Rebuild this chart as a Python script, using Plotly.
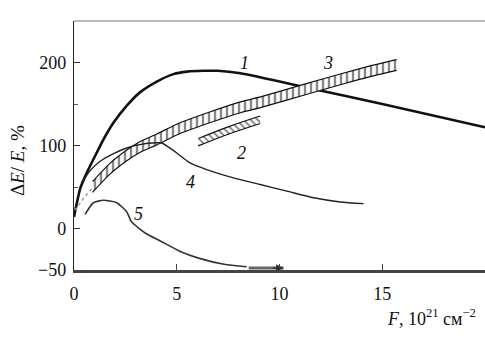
import plotly.graph_objects as go

# ---- data ----
c1_x = [0, 0.3, 0.62, 1.02, 1.43, 1.91, 2.57, 3.21, 4.03, 4.84, 5.5, 6.3, 7.0, 8.1, 11.3, 15, 20]
c1_y = [14, 48, 67, 87, 107, 127, 148, 164, 177, 186, 189, 190, 190, 187, 170, 150, 122]

c3_x = [0.9, 1.75, 2.57, 3.2, 4.0, 5.16, 6.5, 8.1, 9.2, 11.3, 13, 14.5, 15.7]
c3_y = [50, 72, 88, 98, 107, 121, 133, 146, 153, 168, 180, 190, 197]
c3_half = 6.5

c3_dot_x = [0.05, 0.45, 0.86]
c3_dot_y = [22, 36, 48]

c2_x = [6.05, 7.5, 9.06]
c2_y = [104, 118, 131]
c2_half = 4.5

c4_x = [0.37, 0.8, 1.27, 1.9, 2.57, 3.2, 3.8, 4.27, 4.6, 5.0, 5.65, 6.46, 7.76, 9.06, 10.36, 11.66, 12.96, 14.09]
c4_y = [55, 70, 81, 90, 97, 101, 103, 103, 98, 91, 79, 71, 61, 53, 45, 37, 32, 30]

c5_x = [0.54, 0.94, 1.43, 2.08, 2.57, 2.8, 3.5, 4.2, 5.2, 6.1, 7.3, 8.4]
c5_y = [17, 31, 34, 31, 20, 8, -6, -15, -28, -36, -43, -46]

arrow_x = [8.5, 10.2]
arrow_y = [-47.5, -47.5]

label_text = ["1", "3", "2", "4", "5"]
label_x = [8.28, 12.37, 8.13, 5.65, 3.12]
label_y = [200, 200, 91, 56, 18]

x_ticks = [0, 5, 10, 15]
y_ticks = [-50, 0, 100, 200]
y_ticktext = ["\u221250", "0", "100", "200"]

SERIF = "Liberation Serif"

fig = go.Figure()

# curve 1
fig.add_trace(go.Scatter(x=c1_x, y=c1_y, mode="lines",
                         line=dict(color="#111", width=2.6, shape="spline", smoothing=0.5)))

# curve 3 hatched band
fig.add_trace(go.Scatter(x=c3_x, y=[v - c3_half for v in c3_y], mode="lines",
                         line=dict(color="#111", width=1.2, shape="spline", smoothing=0.6)))
fig.add_trace(go.Scatter(x=c3_x, y=[v + c3_half for v in c3_y], mode="lines", fill="tonexty",
                         fillcolor="rgba(0,0,0,0)",
                         fillpattern=dict(shape="|", fgcolor="#111", bgcolor="white", size=6, solidity=0.4),
                         line=dict(color="#111", width=1.2, shape="spline", smoothing=0.6)))
fig.add_trace(go.Scatter(x=c3_dot_x, y=c3_dot_y, mode="lines",
                         line=dict(color="#999", width=1.5, dash="dot")))

# curve 2 hatched band
fig.add_trace(go.Scatter(x=c2_x, y=[v - c2_half for v in c2_y], mode="lines",
                         line=dict(color="#111", width=1.2, shape="spline")))
fig.add_trace(go.Scatter(x=c2_x, y=[v + c2_half for v in c2_y], mode="lines", fill="tonexty",
                         fillcolor="rgba(0,0,0,0)",
                         fillpattern=dict(shape="\\", fgcolor="#111", bgcolor="white", size=5, solidity=0.4),
                         line=dict(color="#111", width=1.2, shape="spline")))

# curve 4
fig.add_trace(go.Scatter(x=c4_x, y=c4_y, mode="lines",
                         line=dict(color="#222", width=1.4, shape="spline", smoothing=0.6)))

# curve 5
fig.add_trace(go.Scatter(x=c5_x, y=c5_y, mode="lines",
                         line=dict(color="#333", width=1.6, shape="spline", smoothing=0.6)))

# arrow along axis
fig.add_trace(go.Scatter(x=arrow_x, y=arrow_y, mode="lines", line=dict(color="#666", width=3)))
fig.add_annotation(x=arrow_x[-1], y=arrow_y[-1], ax=arrow_x[-1] - 0.6, ay=arrow_y[-1],
                   xref="x", yref="y", axref="x", ayref="y", text="", showarrow=True,
                   arrowhead=2, arrowsize=1, arrowwidth=1.5, arrowcolor="#333")

# curve labels
for t, lx, ly in zip(label_text, label_x, label_y):
    fig.add_annotation(x=lx, y=ly, text="<i>" + t + "</i>", showarrow=False,
                       xanchor="center", yanchor="middle",
                       font=dict(family=SERIF, size=18, color="#111"))

# axis titles
fig.add_annotation(x=-0.136, y=0.438, xref="paper", yref="paper", text="\u0394<i>E</i>/ <i>E</i>, %",
                   textangle=-90, showarrow=False, xanchor="center", yanchor="middle",
                   font=dict(family=SERIF, size=19, color="#111"))
fig.add_annotation(x=0.869, y=-0.19, xref="paper", yref="paper",
                   text="<i>F</i>, 10<sup>21</sup> см<sup>\u22122</sup>",
                   showarrow=False, xanchor="center", yanchor="middle",
                   font=dict(family=SERIF, size=18, color="#111"))

# top frame line
fig.add_shape(type="line", xref="paper", yref="paper", x0=0, x1=1, y0=1, y1=1,
              line=dict(color="#777", width=1))

fig.update_layout(
    width=485, height=347,
    margin=dict(l=74, r=0, t=21, b=77),
    plot_bgcolor="white", paper_bgcolor="white",
    showlegend=False,
    font=dict(family=SERIF, size=18, color="#111"),
    xaxis=dict(range=[0, 20], tickvals=x_ticks, ticks="inside", ticklen=6, tickcolor="#444",
               showline=True, linecolor="#444", linewidth=2.5, showgrid=False, zeroline=False,
               ticklabelstandoff=6, tickfont=dict(family=SERIF, size=18, color="#111")),
    yaxis=dict(range=[-50, 250], tickvals=y_ticks, ticktext=y_ticktext, ticks="inside", ticklen=6,
               tickcolor="#333", showline=True, linecolor="#222", linewidth=1.3, showgrid=False,
               zeroline=False, ticklabelstandoff=3, tickfont=dict(family=SERIF, size=18, color="#111"),
               minor=dict(tickvals=[50, 150], ticks="inside", ticklen=4, tickcolor="#555")),
)

fig.write_html("out.html")
